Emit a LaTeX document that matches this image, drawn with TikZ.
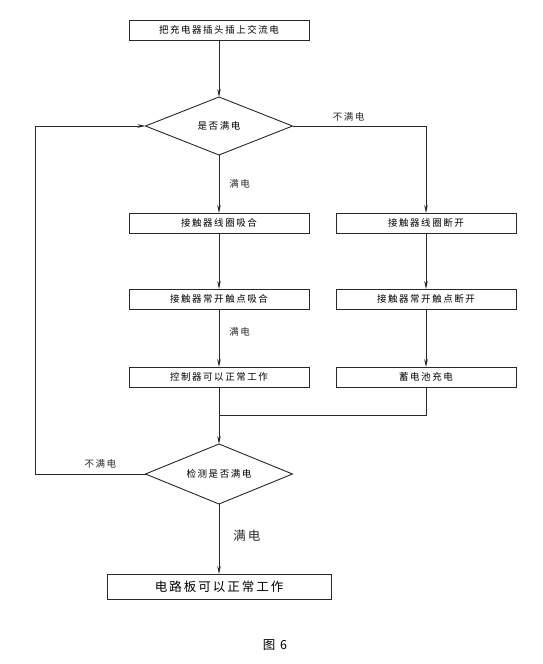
\documentclass[tikz,border=0pt]{standalone}
\usepackage{fontspec}
\usepackage{tikz}
\usetikzlibrary{shapes.geometric, arrows.meta, positioning}
\newfontfamily\cjk[LetterSpace=16]{Noto Sans CJK SC}
\definecolor{lineblk}{RGB}{40,40,40}

\begin{document}
\begin{tikzpicture}[
    x=1pt, y=1pt,
    box/.style={
      rectangle, draw=lineblk, line width=0.9pt,
      minimum width=180pt, minimum height=20pt, inner sep=0pt, outer sep=0pt,
      font=\fontsize{9.5}{11}\selectfont\cjk, text centered
    },
    bigbox/.style={box, minimum width=224pt, minimum height=25pt,
      font=\fontsize{12.5}{14}\selectfont\cjk},
    decbox/.style={
      diamond, aspect=2.5, draw=lineblk, line width=0.9pt,
      minimum width=147pt, minimum height=58pt, inner sep=0pt, outer sep=0pt,
      font=\fontsize{9.5}{11}\selectfont\cjk
    },
    arr/.style={-{Stealth[length=8pt,width=3.6pt]}, line width=0.8pt, lineblk},
    wire/.style={line width=0.8pt, lineblk},
    lbl/.style={font=\fontsize{9.5}{11}\selectfont\cjk, inner sep=0pt},
    biglbl/.style={lbl, font=\fontsize{12.5}{14}\selectfont\cjk}
  ]

    \path[fill=white] (0,0) rectangle (542,-664);
    \useasboundingbox (0,0) rectangle (542,-664);

    % Top — start and first check
    \node[box] (plug) at (219,-30) {把充电器插头插上交流电};
    \node[decbox, below=57pt of plug] (full) {是否满电};

    % Left column — full
    \node[box, below=58pt of full]      (coilon)    {接触器线圈吸合};
    \node[box, below=56pt of coilon]    (contacton) {接触器常开触点吸合};
    \node[box, below=58pt of contacton] (ctrl)      {控制器可以正常工作};

    % Right column — not full
    \node[box, right=27pt of coilon]     (coiloff)    {接触器线圈断开};
    \node[box, below=56pt of coiloff]    (contactoff) {接触器常开触点断开};
    \node[box, below=58pt of contactoff] (charge)     {蓄电池充电};

    % Bottom — second check and result
    \coordinate[below=28pt of ctrl] (merge);
    \node[decbox, minimum height=60pt, below=57pt of ctrl] (check) {检测是否满电};
    \node[bigbox, below=70pt of check] (ok) {电路板可以正常工作};
    \node[biglbl, below=40pt of ok, xshift=56pt] (fig) {图 6};

    % Arrows
    \draw[arr] (plug) -- (full);
    \draw[arr] (full) -- node[lbl, right=10pt]{满电} (coilon);
    \draw[arr] (full.east) -| node[lbl, above=4pt, pos=0.21]{不满电} (coiloff);
    \draw[arr] (coilon) -- (contacton);
    \draw[arr] (contacton) -- node[lbl, right=10pt, pos=0.4]{满电} (ctrl);
    \draw[arr] (coiloff) -- (contactoff);
    \draw[arr] (contactoff) -- (charge);
    \draw[wire] (ctrl) -- (merge);
    \draw[wire] (charge) |- (merge);
    \draw[arr] (merge) -- (check);
    \draw[arr] (check) -- node[biglbl, right=14pt, pos=0.45]{满电} (ok);
    \draw[arr] (check.west) -- node[lbl, above=5pt, pos=0.41]{不满电} ++(-110,0) |- (full.west);

  \end{tikzpicture}
\end{document}
